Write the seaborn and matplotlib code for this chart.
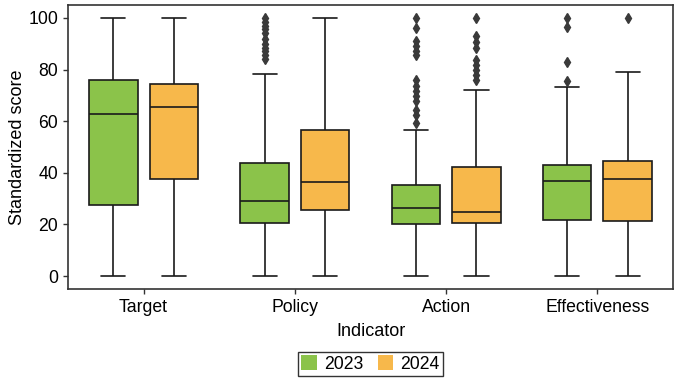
import pandas as pd
import numpy as np
import matplotlib
matplotlib.use("Agg")
import matplotlib.pyplot as plt
import seaborn as sns

# Datos (resumen de cada caja)
indicadores = ["Target", "Policy", "Action", "Effectiveness"]
anios = ["2023", "2024"]

q1_2023 = [27.4, 20.4, 20.2, 21.9]
mediana_2023 = [62.9, 29.1, 26.2, 36.9]
q3_2023 = [76.0, 43.9, 35.3, 43.1]
bigote_bajo_2023 = [0, 0, 0, 0]
bigote_alto_2023 = [100, 78.4, 56.7, 73.1]
atipicos_2023 = [
    [],
    [84, 85.5, 87, 88.5, 90, 92, 94, 95.5, 97, 98.5, 100],
    [59.3, 62.5, 64.5, 67.7, 69.6, 71.6, 73.5, 76.1, 85.8, 87.2, 89, 91, 96.2, 100],
    [75.7, 82.8, 96.4, 100],
]

q1_2024 = [37.6, 25.4, 20.5, 21.2]
mediana_2024 = [65.5, 36.3, 24.9, 37.7]
q3_2024 = [74.4, 56.7, 42.2, 44.4]
bigote_bajo_2024 = [0, 0, 0, 0]
bigote_alto_2024 = [100, 100, 72.2, 79.0]
atipicos_2024 = [
    [],
    [],
    [76.1, 78, 80, 81.9, 83.8, 88.4, 90.7, 92.9, 100],
    [100],
]

colores = {"2023": "#8bc34a", "2024": "#f7b84b"}


# Arma una muestra cuyos cuartiles coinciden con los valores leidos
def muestra(bajo, q1, med, q3, alto, atipicos):
    cola = [alto] + list(atipicos)
    k = len(cola)
    return [bajo] + [q1] * k + [med] * k + [q3] * k + cola


filas = []
resumen = {
    "2023": (bigote_bajo_2023, q1_2023, mediana_2023, q3_2023, bigote_alto_2023, atipicos_2023),
    "2024": (bigote_bajo_2024, q1_2024, mediana_2024, q3_2024, bigote_alto_2024, atipicos_2024),
}
for anio in anios:
    bajo, q1, med, q3, alto, atip = resumen[anio]
    for i, ind in enumerate(indicadores):
        for v in muestra(bajo[i], q1[i], med[i], q3[i], alto[i], atip[i]):
            filas.append({"Indicator": ind, "Year": anio, "Score": v})
df = pd.DataFrame(filas)

sns.set_style("ticks")
plt.rcParams["font.family"] = ["Liberation Sans", "DejaVu Sans"]
plt.rcParams["text.color"] = "black"
plt.rcParams["axes.labelcolor"] = "black"
plt.rcParams["xtick.color"] = "black"
plt.rcParams["ytick.color"] = "black"

fig, ax = plt.subplots(figsize=(6.84, 3.82), dpi=100)
fig.subplots_adjust(left=0.0994, right=0.984, top=0.987, bottom=0.2435)

sns.boxplot(
    data=df, x="Indicator", y="Score", hue="Year",
    order=indicadores, hue_order=anios, palette=colores,
    width=0.8, gap=0.2, linewidth=1.2, linecolor="#1a1a1a",
    flierprops=dict(marker="d", markerfacecolor="#3a3a3a",
                    markeredgecolor="#3a3a3a", markersize=5),
    saturation=1, ax=ax,
)

ax.set_ylim(-5, 105)
ax.set_xlim(-0.5, 3.5)
ax.set_yticks([0, 20, 40, 60, 80, 100])
ax.set_xlabel("Indicator", fontsize=13, labelpad=5)
ax.set_ylabel("Standardized score", fontsize=13, labelpad=2)
ax.tick_params(labelsize=12.7, length=3.5, width=1, color="#333333")
for s in ax.spines.values():
    s.set_color("#333333")
    s.set_linewidth(1.2)

leg = ax.legend(loc="upper center", bbox_to_anchor=(0.5, -0.19), ncol=2,
                frameon=True, fancybox=False, fontsize=12.7,
                handlelength=0.9, handleheight=0.9, columnspacing=0.8,
                handletextpad=0.4, borderpad=0.2)
leg.get_frame().set_edgecolor("black")
leg.get_frame().set_linewidth(1.0)
for h in leg.legend_handles:
    h.set_edgecolor("none")

plt.savefig("out.png", dpi=100)
